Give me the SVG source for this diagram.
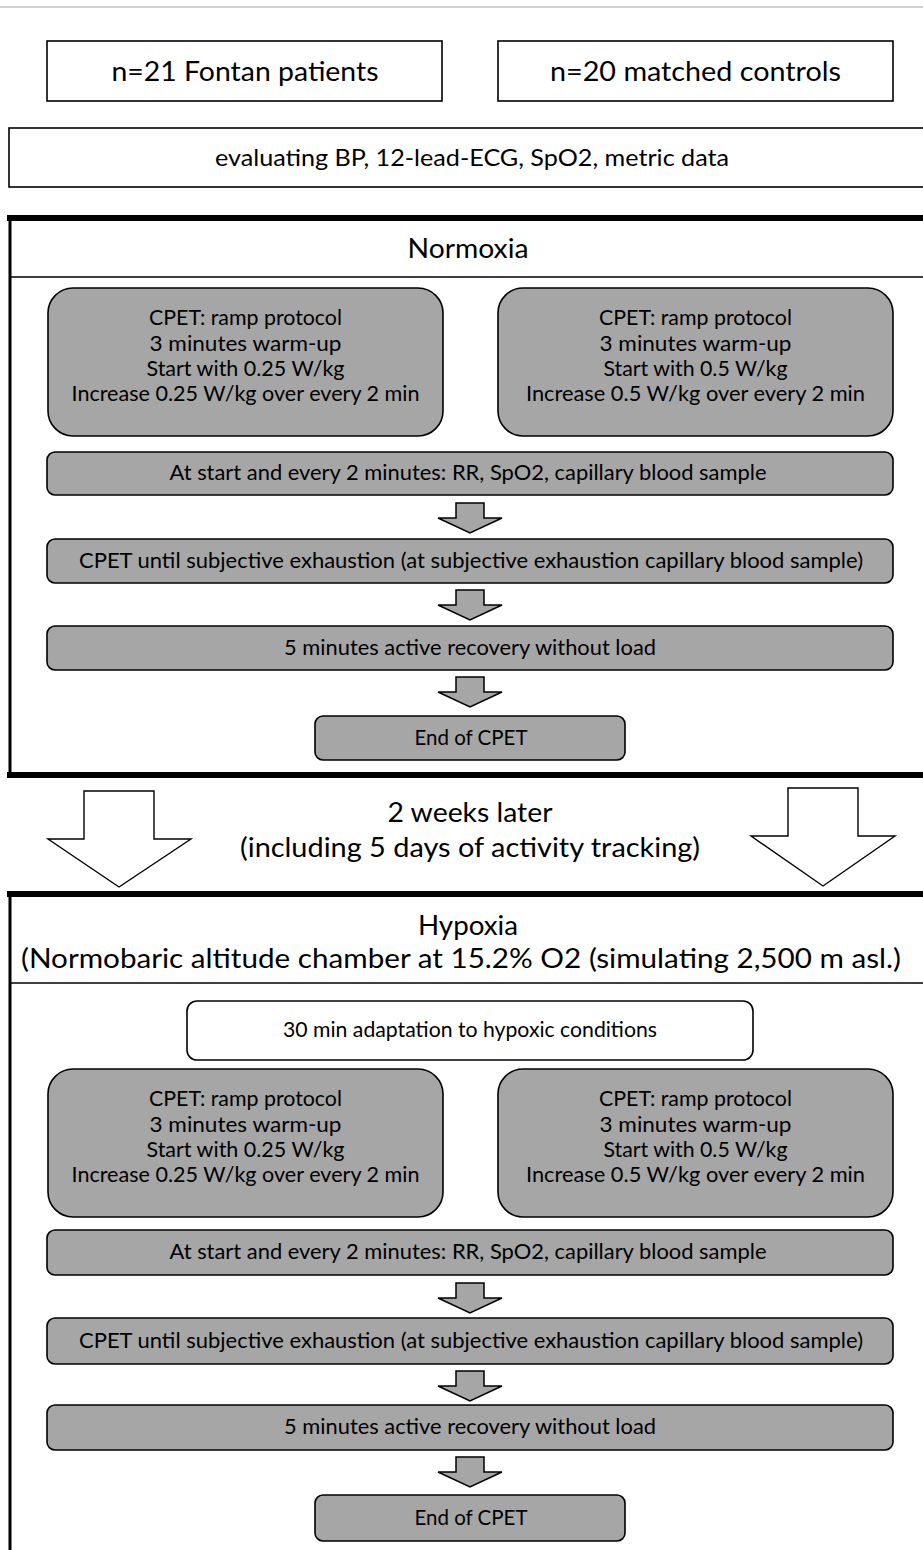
<svg xmlns="http://www.w3.org/2000/svg" width="923" height="1550" viewBox="0 0 923 1550">
<style>
text{font-family:Lato,"Open Sans","Liberation Sans",sans-serif;fill:#000;text-anchor:middle}
.box{fill:#fff;stroke:#000;stroke-width:1.6}
.gray{fill:#a6a6a6;stroke:#000;stroke-width:1.6}
.frame{fill:#fff;stroke:#000;stroke-width:3}
.thick{stroke:#000;stroke-width:6;fill:none}
.div{stroke:#000;stroke-width:1.5;fill:none}
.arr{fill:#a6a6a6;stroke:#000;stroke-width:1.5;stroke-linejoin:miter}
.big{fill:#fff;stroke:#000;stroke-width:1.4}
.t26{font-size:27px}
.t22{font-size:23.5px}
.t19{font-size:20.5px}
.t18{font-size:20.5px}
</style>
<defs>
<path id="sa" d="M-14,0 H14 V15 H32 L0,30 L-32,15 H-14 Z"/>
</defs>
<rect width="923" height="1550" fill="#fff"/>
<line x1="0" y1="7" x2="923" y2="7" stroke="#c0c0c0" stroke-width="1.5"/>

<g id="fontan">
<rect class="box" x="47" y="41" width="395" height="60"/>
<text class="t26" x="245" y="81" textLength="267" lengthAdjust="spacingAndGlyphs">n=21 Fontan patients</text>
</g>
<g id="controls">
<rect class="box" x="498" y="41" width="395" height="60"/>
<text class="t26" x="695.5" y="81" textLength="291" lengthAdjust="spacingAndGlyphs">n=20 matched controls</text>
</g>
<g id="evaluating">
<rect class="box" x="9" y="128" width="930" height="59"/>
<text class="t22" x="472" y="166" textLength="514" lengthAdjust="spacingAndGlyphs">evaluating BP, 12-lead-ECG, SpO2, metric data</text>
</g>

<g id="normoxia">
<rect class="frame" x="10" y="218" width="930" height="557"/>
<line class="thick" x1="7" y1="218" x2="923" y2="218"/>
<line class="thick" x1="7" y1="775" x2="923" y2="775"/>
<line class="div" x1="10" y1="277" x2="923" y2="277"/>
<text class="t26" x="468" y="258" textLength="121" lengthAdjust="spacingAndGlyphs">Normoxia</text>
</g>

<g id="n-cpet-fontan">
<rect class="gray" x="48" y="288" width="395" height="148" rx="25"/>
<text class="t19" x="245.5" y="325" textLength="193" lengthAdjust="spacingAndGlyphs">CPET: ramp protocol</text>
<text class="t19" x="245.5" y="351" textLength="192" lengthAdjust="spacingAndGlyphs">3 minutes warm-up</text>
<text class="t19" x="245.5" y="376" textLength="198" lengthAdjust="spacingAndGlyphs">Start with 0.25 W/kg</text>
<text class="t19" x="245.5" y="401" textLength="348" lengthAdjust="spacingAndGlyphs">Increase 0.25 W/kg over every 2 min</text>
</g>
<g id="n-cpet-controls">
<rect class="gray" x="498" y="288" width="395" height="148" rx="25"/>
<text class="t19" x="695.5" y="325" textLength="193" lengthAdjust="spacingAndGlyphs">CPET: ramp protocol</text>
<text class="t19" x="695.5" y="351" textLength="192" lengthAdjust="spacingAndGlyphs">3 minutes warm-up</text>
<text class="t19" x="695.5" y="376" textLength="184" lengthAdjust="spacingAndGlyphs">Start with 0.5 W/kg</text>
<text class="t19" x="695.5" y="401" textLength="339" lengthAdjust="spacingAndGlyphs">Increase 0.5 W/kg over every 2 min</text>
</g>
<g id="n-sampling">
<rect class="gray" x="47" y="452" width="846" height="43" rx="8"/>
<text class="t18" x="468" y="480" textLength="597" lengthAdjust="spacingAndGlyphs">At start and every 2 minutes: RR, SpO2, capillary blood sample</text>
</g>
<g id="n-exhaustion">
<rect class="gray" x="47" y="539" width="846" height="44" rx="8"/>
<text class="t18" x="471" y="568" textLength="784" lengthAdjust="spacingAndGlyphs">CPET  until subjective exhaustion (at subjective exhaustion capillary blood  sample)</text>
</g>
<g id="n-recovery">
<rect class="gray" x="47" y="626" width="846" height="44" rx="8"/>
<text class="t18" x="470" y="655" textLength="372" lengthAdjust="spacingAndGlyphs">5 minutes active recovery without load</text>
</g>
<g id="n-end">
<rect class="gray" x="315" y="716" width="310" height="44" rx="8"/>
<text class="t18" x="471" y="745" textLength="113" lengthAdjust="spacingAndGlyphs">End of CPET</text>
</g>

<g id="transition">
<text class="t26" x="470" y="822" textLength="165" lengthAdjust="spacingAndGlyphs">2 weeks later</text>
<text class="t26" x="470" y="857" textLength="460" lengthAdjust="spacingAndGlyphs">(including 5 days of activity tracking)</text>
</g>

<g id="hypoxia">
<rect class="frame" x="10" y="894" width="930" height="700"/>
<line class="thick" x1="7" y1="894" x2="923" y2="894"/>
<line class="div" x1="10" y1="983" x2="923" y2="983"/>
<text class="t26" x="468" y="935" textLength="100" lengthAdjust="spacingAndGlyphs">Hypoxia</text>
<text class="t26" x="461" y="968" textLength="880" lengthAdjust="spacingAndGlyphs">(Normobaric altitude chamber at 15.2% O2 (simulating 2,500 m asl.)</text>
</g>
<g id="h-adaptation">
<rect class="box" x="187" y="1001" width="566" height="59" rx="10"/>
<text class="t18" x="470" y="1037" textLength="374" lengthAdjust="spacingAndGlyphs">30 min adaptation to hypoxic conditions</text>
</g>
<g id="h-cpet-fontan">
<rect class="gray" x="48" y="1069" width="395" height="148" rx="25"/>
<text class="t19" x="245.5" y="1106" textLength="193" lengthAdjust="spacingAndGlyphs">CPET: ramp protocol</text>
<text class="t19" x="245.5" y="1132" textLength="192" lengthAdjust="spacingAndGlyphs">3 minutes warm-up</text>
<text class="t19" x="245.5" y="1157" textLength="198" lengthAdjust="spacingAndGlyphs">Start with 0.25 W/kg</text>
<text class="t19" x="245.5" y="1182" textLength="348" lengthAdjust="spacingAndGlyphs">Increase 0.25 W/kg over every 2 min</text>
</g>
<g id="h-cpet-controls">
<rect class="gray" x="498" y="1069" width="395" height="148" rx="25"/>
<text class="t19" x="695.5" y="1106" textLength="193" lengthAdjust="spacingAndGlyphs">CPET: ramp protocol</text>
<text class="t19" x="695.5" y="1132" textLength="192" lengthAdjust="spacingAndGlyphs">3 minutes warm-up</text>
<text class="t19" x="695.5" y="1157" textLength="184" lengthAdjust="spacingAndGlyphs">Start with 0.5 W/kg</text>
<text class="t19" x="695.5" y="1182" textLength="339" lengthAdjust="spacingAndGlyphs">Increase 0.5 W/kg over every 2 min</text>
</g>
<g id="h-sampling">
<rect class="gray" x="47" y="1230" width="846" height="45" rx="8"/>
<text class="t18" x="468" y="1259" textLength="597" lengthAdjust="spacingAndGlyphs">At start and every 2 minutes: RR, SpO2, capillary blood sample</text>
</g>
<g id="h-exhaustion">
<rect class="gray" x="47" y="1318" width="846" height="46" rx="8"/>
<text class="t18" x="471" y="1348" textLength="784" lengthAdjust="spacingAndGlyphs">CPET  until subjective exhaustion (at subjective exhaustion capillary blood  sample)</text>
</g>
<g id="h-recovery">
<rect class="gray" x="47" y="1405" width="846" height="45" rx="8"/>
<text class="t18" x="470" y="1434" textLength="372" lengthAdjust="spacingAndGlyphs">5 minutes active recovery without load</text>
</g>
<g id="h-end">
<rect class="gray" x="315" y="1495" width="310" height="46" rx="8"/>
<text class="t18" x="471" y="1525" textLength="113" lengthAdjust="spacingAndGlyphs">End of CPET</text>
</g>

<g id="connectors">
<use href="#sa" class="arr" x="470" y="503"/>
<use href="#sa" class="arr" x="470" y="590"/>
<use href="#sa" class="arr" x="470" y="677"/>
<polygon class="big" points="84,791 154,791 154,839 191,839 119,887 48,839 84,839"/>
<polygon class="big" points="788,788 858,788 858,836 895,836 823,886 751,836 788,836"/>
<use href="#sa" class="arr" x="470" y="1283"/>
<use href="#sa" class="arr" x="470" y="1371"/>
<use href="#sa" class="arr" x="470" y="1457"/>
</g>
</svg>
